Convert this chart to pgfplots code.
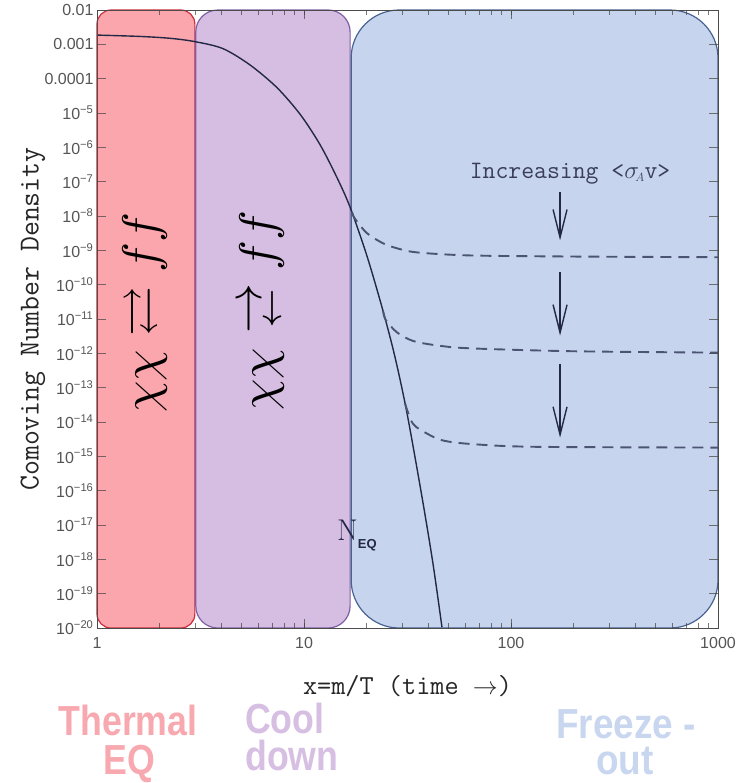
\documentclass[border=0pt]{standalone}
\usepackage{amsmath,amssymb}
\usepackage{pgfplots}
\pgfplotsset{compat=1.18}
\usepackage{fontspec}
\newfontfamily\sans{Liberation Sans}
\usetikzlibrary{arrows.meta}
\definecolor{redfill}{RGB}{250,166,172}
\definecolor{redline}{RGB}{205,45,60}
\definecolor{purfill}{RGB}{214,190,226}
\definecolor{purline}{RGB}{125,95,165}
\definecolor{bluefill}{RGB}{199,212,238}
\definecolor{blueline}{RGB}{72,98,145}
\definecolor{curvec}{RGB}{35,40,70}
\definecolor{dashc}{RGB}{75,85,115}
\definecolor{tickgray}{RGB}{85,85,85}
\definecolor{pinkt}{RGB}{248,168,175}
\definecolor{purt}{RGB}{214,191,226}
\definecolor{bluet}{RGB}{201,214,239}
\newcommand{\coolarrow}{\mathrel{\vcenter{\offinterlineskip\halign{\hfil$##$\hfil\cr\rightarrow\cr\noalign{\kern1.2pt}\scriptstyle\leftarrow\cr}}}}
\begin{document}
\begin{tikzpicture}
\begin{axis}[
  scale only axis, width=621pt, height=618pt,
  xmode=log, ymode=log,
  xmin=1, xmax=1000, ymin=1e-20, ymax=1e-2,
  axis on top, clip=false,
  xtick={1,10,100,1000}, xticklabels={1,10,100,1000},
  ytick={1e-2,1e-3,1e-4,1e-5,1e-6,1e-7,1e-8,1e-9,1e-10,1e-11,1e-12,1e-13,1e-14,1e-15,1e-16,1e-17,1e-18,1e-19,1e-20},
  yticklabels={0.01,0.001,0.0001,10\textsuperscript{−5},10\textsuperscript{−6},10\textsuperscript{−7},10\textsuperscript{−8},10\textsuperscript{−9},10\textsuperscript{−10},10\textsuperscript{−11},10\textsuperscript{−12},10\textsuperscript{−13},10\textsuperscript{−14},10\textsuperscript{−15},10\textsuperscript{−16},10\textsuperscript{−17},10\textsuperscript{−18},10\textsuperscript{−19},10\textsuperscript{−20}},
  tick pos=both, tick align=inside,
  major tick length=9pt, minor tick length=5pt,
  every tick/.append style={black!75, line width=0.6pt, draw opacity=0.7},
  axis line style={black!70, line width=0.7pt},
  tick label style={font=\sans\fontsize{16}{16}\selectfont, text=tickgray},
  xticklabel style={yshift=-6pt},
  xlabel={\ttfamily\fontsize{27.5}{29}\selectfont x=m/T (time $\rightarrow$)},
  xlabel style={at={([yshift=-58pt]rel axis cs:0.5,0)}, anchor=center, text=black!85},
  ylabel={\ttfamily\fontsize{29}{31}\selectfont Comoving Number Density},
  ylabel style={at={([xshift=-64pt]rel axis cs:0,0.5)}, anchor=center, text=black!85},
]
% region boxes
\addplot[fill=redfill, draw=redline, line width=1.2pt, rounded corners=14pt]
  coordinates {(1,1e-20) (1,1e-2) (2.97,1e-2) (2.97,1e-20)} -- cycle;
\addplot[fill=purfill, draw=purline, line width=1.2pt, rounded corners=22pt]
  coordinates {(3.0,1e-20) (3.0,1e-2) (16.7,1e-2) (16.7,1e-20)} -- cycle;
\addplot[fill=bluefill, draw=blueline, line width=1.2pt, rounded corners=48pt]
  coordinates {(16.9,1e-20) (16.9,1e-2) (1000,1e-2) (1000,1e-20)} -- cycle;
% equilibrium curve
\addplot[curvec, line width=1.4pt, smooth, tension=0.5] coordinates {
  (1,1.86e-3) (1.61,1.7e-3) (2.25,1.5e-3) (2.97,1.2e-3) (4.06,7.5e-4)
  (5.49,2.5e-4) (7.4,5.5e-5) (9.6,9e-6) (11.95,1.2e-6) (14.4,1.35e-7)
  (16.7,1.8e-8) (20.2,6.5e-10) (24.1,1.7e-11) (27.5,7.9e-13) (31.4,1.9e-14)
  (37.2,6.3e-17) (42,7.4e-19) (46.4,1.05e-20)};
% freeze-out curves
\addplot[dashc, line width=1.9pt, dash pattern=on 11pt off 7pt, smooth, tension=0.5] coordinates {
  (17.06,1.3e-8) (17.6,8.5e-9) (20.1,3.2e-9) (24.1,1.6e-9) (28.1,1.15e-9)
  (35.2,8.7e-10) (63.4,7.1e-10) (200,6.6e-10) (1000,6.3e-10)};
\addplot[dashc, line width=1.9pt, dash pattern=on 11pt off 7pt, smooth, tension=0.5] coordinates {
  (24.1,1.7e-11) (24.8,9.5e-12) (28.1,4.1e-12) (33.6,2.3e-12) (44,1.7e-12)
  (63.4,1.4e-12) (200,1.15e-12) (1000,1.05e-12)};
\addplot[dashc, line width=1.9pt, dash pattern=on 11pt off 7pt, smooth, tension=0.5] coordinates {
  (30.8,3.4e-14) (33.6,8.9e-15) (39.3,4.6e-15) (46.9,2.9e-15) (63.4,2.3e-15)
  (127.6,1.9e-15) (1000,1.8e-15)};
% arrows
\addplot[curvec, line width=1.4pt, -{Straight Barb[length=28pt,width=14pt,line width=1.4pt]}]
  coordinates {(172.6,4.9e-8) (172.6,1.95e-9)};
\addplot[curvec, line width=1.4pt, -{Straight Barb[length=28pt,width=14pt,line width=1.4pt]}]
  coordinates {(172.6,2.3e-10) (172.6,3.3e-12)};
\addplot[curvec, line width=1.4pt, -{Straight Barb[length=28pt,width=14pt,line width=1.4pt]}]
  coordinates {(172.6,5e-13) (172.6,3.5e-15)};
% annotations
\node[text=curvec!90, anchor=center] at (axis cs:193,1.76e-7)
  {\ttfamily\fontsize{25}{27}\selectfont Increasing <$\sigma_{\!\scriptscriptstyle A}$v>};
\node[text=curvec, anchor=base west, inner sep=0pt] at (axis cs:14.43,3.5e-18)
  {\fontsize{30}{30}\selectfont N\raisebox{-8pt}{\sans\bfseries\fontsize{13}{13}\selectfont EQ}};
\node[rotate=90, anchor=center] at (axis cs:1.706,1.55e-11)
  {\scalebox{5}{$\chi\chi \rightleftarrows ff$}};
\node[rotate=90, anchor=center] at (axis cs:6.27,1.78e-11)
  {\scalebox{5}{$\chi\chi \coolarrow ff$}};
\coordinate (SW) at (rel axis cs:0,0);
\end{axis}
\begin{scope}[every node/.style={inner sep=0pt, font=\sans\bfseries\fontsize{42}{44}\selectfont}]
\node[anchor=base, text=pinkt] at ([xshift=31pt,yshift=-107pt]SW) {\scalebox{0.85}[1]{Thermal}};
\node[anchor=base, text=pinkt] at ([xshift=32pt,yshift=-146pt]SW) {\scalebox{0.85}[1]{EQ}};
\node[anchor=base west, text=purt] at ([xshift=148pt,yshift=-105pt]SW) {\scalebox{0.85}[1]{Cool}};
\node[anchor=base west, text=purt] at ([xshift=148pt,yshift=-142pt]SW) {\scalebox{0.85}[1]{down}};
\node[anchor=base, text=bluet] at ([xshift=529pt,yshift=-110pt]SW) {\scalebox{0.88}[1]{Freeze -}};
\node[anchor=base, text=bluet] at ([xshift=528pt,yshift=-146pt]SW) {\scalebox{0.88}[1]{out}};
\end{scope}
\pgfresetboundingbox
\path[use as bounding box] ([xshift=-97pt,yshift=-155pt]SW) rectangle ([xshift=644pt,yshift=628pt]SW);
\end{tikzpicture}
\end{document}
